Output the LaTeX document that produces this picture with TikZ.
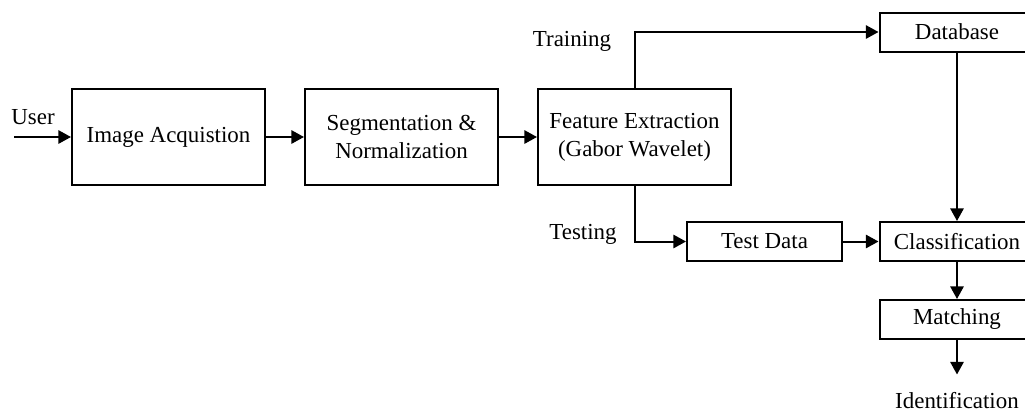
\documentclass[tikz,border=0pt]{standalone}
\usepackage{fontspec}
\setmainfont{Liberation Serif}
\usepackage{tikz}
\usetikzlibrary{positioning, arrows.meta}

\begin{document}
\begin{tikzpicture}[
    x=0.75pt, y=-0.75pt,
    font=\fontsize{17.2}{21}\selectfont,
    line width=1.5pt,
    blk/.style={rectangle, draw, minimum width=144.75pt, minimum height=72pt, align=center, inner sep=2pt},
    sblk/.style={rectangle, draw, minimum width=116.25pt, minimum height=29.25pt, align=center, inner sep=2pt},
    lbl/.style={inner sep=2pt},
    ar/.style={-{Triangle[length=9.5pt, width=10pt]}}
]
\useasboundingbox (0,0) rectangle (1025,412);

\node[blk] (acq) at (168.5,137) {Image Acquistion};
\node[blk, right=28.5pt of acq] (seg) {Segmentation \&\\ Normalization};
\node[blk, right=28.5pt of seg] (feat) {Feature Extraction\\ (Gabor Wavelet)};

\node[sblk] (db) at (957,32) {Database};
\node[sblk] (cls) at (957,241.5) {Classification};
\node[sblk, below=27.75pt of cls] (match) {Matching};
\node[sblk] (test) at (764.5,241.5) {Test Data};

\node[lbl] (user) at (33,117) {User};
\node[lbl] (train) at (572,41) {Training};
\node[lbl] (testing) at (583,234) {Testing};
\node[lbl] (ident) at (957,401) {Identification};
\coordinate (start) at (14,137);

\draw[ar] (start) -- (acq);
\draw[ar] (acq) -- (seg);
\draw[ar] (seg) -- (feat);
\draw[ar] (feat.north) |- (db.west);
\draw[ar] (feat.south) |- (test.west);
\draw[ar] (test) -- (cls);
\draw[ar] (db) -- (cls);
\draw[ar] (cls) -- (match);
\draw[ar, shorten >=11pt] (match) -- (ident);
\end{tikzpicture}
\end{document}
